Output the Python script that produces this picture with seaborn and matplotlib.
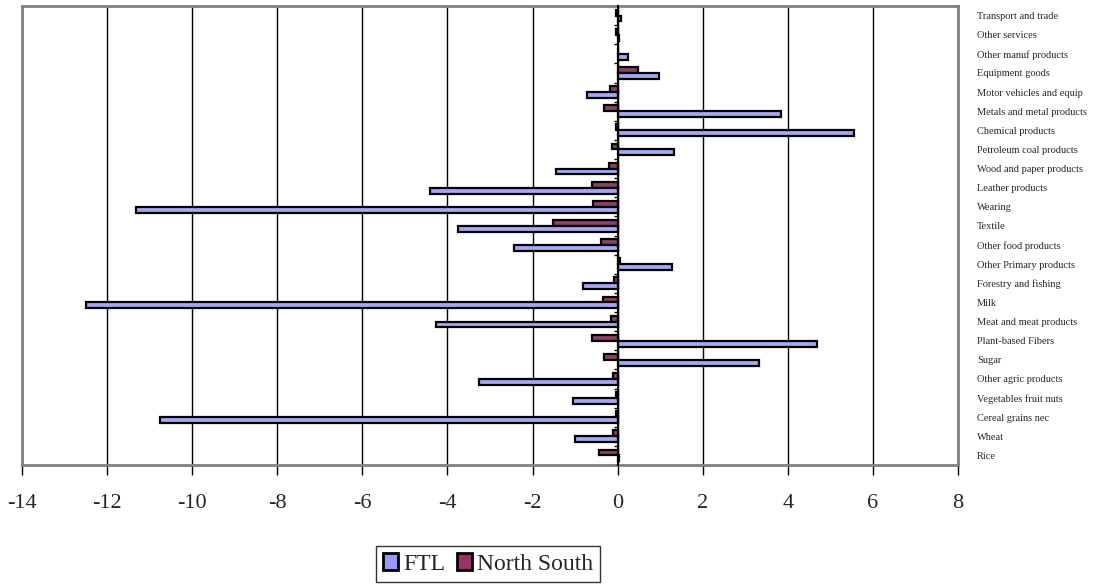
import matplotlib
matplotlib.use("Agg")
import matplotlib.pyplot as plt
import matplotlib.patches as mpatches
from matplotlib.ticker import FixedLocator
import numpy as np
import pandas as pd
import seaborn as sns

categories = [
    "Transport and trade", "Other services", "Other manuf products", "Equipment goods",
    "Motor vehicles and equip", "Metals and metal products", "Chemical products",
    "Petroleum coal products", "Wood and paper products", "Leather products", "Wearing",
    "Textile", "Other food products", "Other Primary products", "Forestry and fishing",
    "Milk", "Meat and meat products", "Plant-based Fibers", "Sugar", "Other agric products",
    "Vegetables fruit nuts", "Cereal grains nec", "Wheat", "Rice",
]
ftl = [0.07, 0.03, 0.24, 0.97, -0.72, 3.84, 5.55, 1.33, -1.46, -4.40, -11.33, -3.76,
       -2.43, 1.27, -0.82, -12.49, -4.27, 4.68, 3.33, -3.27, -1.06, -10.76, -1.00, 0.04]
north_south = [-0.05, -0.04, 0.01, 0.47, -0.18, -0.31, -0.05, -0.13, -0.20, -0.61, -0.58, -1.53,
               -0.38, 0.06, -0.09, -0.35, -0.16, -0.61, -0.31, -0.12, -0.03, -0.04, -0.10, -0.44]
series_names = ["FTL", "North South"]
colors = {"FTL": "#9999FF", "North South": "#993366"}
x_ticks = list(range(-14, 9, 2))

df = pd.DataFrame({
    "category": categories * 2,
    "value": ftl + north_south,
    "series": ["FTL"] * len(categories) + ["North South"] * len(categories),
})

sns.set_style("white")
plt.rcParams["font.family"] = ["Liberation Serif", "DejaVu Serif"]
plt.rcParams["axes.unicode_minus"] = False

fig = plt.figure(figsize=(10.94, 5.84), dpi=100)
ax = fig.add_axes([22 / 1094, 1 - 465 / 584, (958 - 22) / 1094, (465 - 6) / 584])

sns.barplot(data=df, x="value", y="category", hue="series", order=categories,
            hue_order=["North South", "FTL"], palette=colors, orient="h",
            width=0.62, edgecolor="black", linewidth=1.6, errorbar=None,
            legend=False, ax=ax, zorder=3)

ax.set_xlim(x_ticks[0], x_ticks[-1])
ax.set_ylim(len(categories) - 0.5, -0.5)
ax.set_xticks(x_ticks)
ax.set_xticklabels([str(t) for t in x_ticks], fontsize=16)
ax.grid(axis="x", color="black", linewidth=1.0, zorder=0)
ax.grid(axis="y", visible=False)
ax.set_axisbelow(True)
ax.set_xlabel("")
ax.set_ylabel("")

# frame
for s in ["top", "right", "bottom"]:
    ax.spines[s].set_color("#808080")
    ax.spines[s].set_linewidth(2)
    ax.spines[s].set_visible(True)
ax.spines["left"].set_position(("data", 0))
ax.spines["left"].set_color("black")
ax.spines["left"].set_linewidth(1.5)
ax.spines["left"].set_zorder(4)
ax.plot([0, 0], [0, 1], transform=ax.transAxes, color="#808080", lw=2, clip_on=False)

ax.tick_params(axis="x", which="major", bottom=True, length=7, width=1, color="black",
               pad=14, labelsize=16)
ax.tick_params(axis="y", which="major", left=False, right=False, labelleft=False,
               labelright=True, labelsize=7.5, pad=10)
ax.yaxis.set_minor_locator(FixedLocator(np.arange(-0.5, len(categories), 1)))
ax.tick_params(axis="y", which="minor", left=True, right=False, length=3, width=1,
               color="black", direction="out")

handles = [mpatches.Patch(facecolor=colors[n], edgecolor="black", linewidth=2, label=n)
           for n in series_names]
leg = fig.legend(handles=handles, loc="upper center", bbox_to_anchor=(488 / 1094, 1 - 546 / 584),
                 ncol=2, fontsize=17, frameon=True, fancybox=False, shadow=False,
                 handlelength=0.65, handleheight=0.75, handletextpad=0.2, columnspacing=0.5,
                 borderpad=0.3, borderaxespad=0)
leg.get_frame().set_edgecolor("black")
leg.get_frame().set_linewidth(1)

fig.savefig("out.png", dpi=100)
